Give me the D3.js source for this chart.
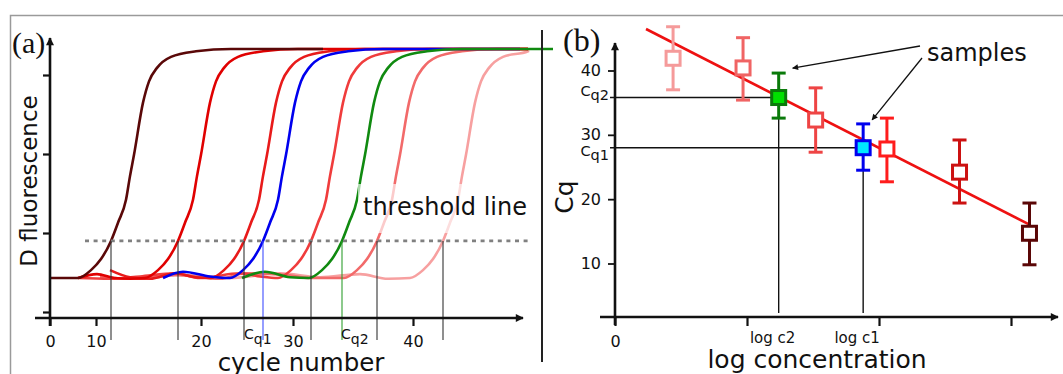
<!DOCTYPE html>
<html>
<head>
<meta charset="utf-8">
<script src="https://cdn.jsdelivr.net/npm/d3@7"></script>
<style>
  body { margin: 0; background: #fff; }
  text { font-family: "DejaVu Sans", Verdana, sans-serif; fill: #111; }
</style>
</head>
<body>
<script>
// ---------- data: panel (a) amplification curves ----------
const cycleTickPos = [0, 4.6, 15.1, 24.3, 36.3];
const cycleTickLabels = ["0", "10", "20", "30", "40"];
const fluorTicks = [0, 1, 2, 3];
const threshold = 0.9;

// threshold crossing cycle of each curve
const curveCq = [6.1, 12.8, 19.4, 21.3, 26.1, 29.2, 32.7, 39.3];
const curveColors = ["#5a0808", "#e00000", "#e81a1a", "#0000ee", "#f03c3c", "#108a10", "#f26a6a", "#f7a0a0"];
const curveEnd = [27.3, 47.8, 47.8, 47.0, 47.8, 50.3, 47.8, 47.8];
const drawOrder = [7, 6, 4, 2, 1, 0, 3, 5];
// noisy baseline before the rise, [cycle, fluorescence]
const curveBase = [
  [[0, 0.43], [2.0, 0.43]],
  [[2.8, 0.43], [4.7, 0.48], [6.4, 0.43], [8.0, 0.42]],
  [[6.0, 0.53], [8.0, 0.44], [10.0, 0.42], [12.5, 0.49], [14.5, 0.44]],
  [[11.3, 0.43], [13.3, 0.51], [16.0, 0.45]],
  [[2.8, 0.43], [6.0, 0.42], [9.0, 0.45], [12.5, 0.49], [15.0, 0.43], [19.0, 0.49], [21.0, 0.45]],
  [[19.2, 0.43], [21.5, 0.51], [24.0, 0.44]],
  [[5.0, 0.45], [8.0, 0.42], [12.5, 0.47], [17.0, 0.42], [19.5, 0.49], [23.5, 0.47], [26.0, 0.43], [27.8, 0.43]],
  [[5.0, 0.44], [9.0, 0.42], [13.0, 0.47], [18.0, 0.43], [23.0, 0.49], [27.0, 0.44], [31.0, 0.48], [33.8, 0.42]]
];
// rise shape: [cycles from Cq, fluorescence]
const riseProfile = [
  [-3.3, 0.43], [-2.0, 0.53], [-1.0, 0.67], [0, 0.90], [0.7, 1.13], [1.5, 1.42],
  [1.9, 1.72], [2.3, 1.99], [3.2, 2.65], [3.8, 2.92], [4.6, 3.09], [6.0, 3.23],
  [8.5, 3.30], [12, 3.33]
];

// ---------- data: panel (b) standard curve ----------
const logTicks = [0, 1, 2, 3];
const logTickLabels = ["0", "", "", ""];
const cqTicks = [10, 20, 30, 40];
const stdLogC = [0.44, 0.97, 1.52, 2.06, 2.61, 3.14];
const stdCq = [41.9, 40.4, 32.3, 27.8, 24.2, 14.7];
const stdLo = [37.0, 35.4, 27.3, 22.7, 19.4, 9.8];
const stdHi = [46.8, 45.1, 37.3, 32.6, 29.2, 19.4];
const stdColors = ["#f59a9a", "#f06464", "#ee4444", "#ff1c1c", "#cc1111", "#5a0606"];
const sampleNames = ["2", "1"];
const sampleLogC = [1.24, 1.88];
const sampleCq = [35.8, 28.0];
const sampleLo = [32.6, 24.5];
const sampleHi = [39.6, 31.7];
const sampleFill = ["#00e000", "#00e8ff"];
const sampleStroke = ["#0a7a0a", "#0000ee"];
const fitLogC = [0.235, 3.144];
const fitCq = [46.45, 16.0];

const W = 1063, H = 374;
const svg = d3.select("body").append("svg")
  .attr("width", W).attr("height", H);

const defs = svg.append("defs");
defs.append("marker").attr("id", "axArrow")
  .attr("viewBox", "0 0 10 10").attr("refX", 9).attr("refY", 5)
  .attr("markerWidth", 10).attr("markerHeight", 8)
  .attr("markerUnits", "userSpaceOnUse").attr("orient", "auto")
  .append("path").attr("d", "M0,0 L10,5 L0,10 z").attr("fill", "#111");
defs.append("marker").attr("id", "smArrow")
  .attr("viewBox", "0 0 10 10").attr("refX", 9).attr("refY", 5)
  .attr("markerWidth", 9).attr("markerHeight", 6)
  .attr("markerUnits", "userSpaceOnUse").attr("orient", "auto")
  .append("path").attr("d", "M0,0 L10,5 L0,10 z").attr("fill", "#111");

// frame
svg.append("path")
  .attr("d", `M10.5,${H} V15.5 H${W}`)
  .attr("fill", "none").attr("stroke", "#9a9a9a").attr("stroke-width", 1.5);

// ================= panel (a) =================
const xa = d3.scaleLinear().domain([0, 48]).range([50, 530]);
const ya = d3.scaleLinear().domain([0, 3]).range([312, 75]);
const axYa = 318;

const line = d3.line()
  .x(d => xa(d[0])).y(d => ya(d[1]))
  .curve(d3.curveMonotoneX);

drawOrder.forEach(i => {
  const cq = curveCq[i];
  let pts = curveBase[i].concat(riseProfile.map(p => [cq + p[0], p[1]]))
    .filter(p => p[0] <= curveEnd[i]);
  pts.push([curveEnd[i], riseProfile[riseProfile.length - 1][1]]);
  svg.append("path")
    .attr("d", line(pts))
    .attr("fill", "none")
    .attr("stroke", curveColors[i])
    .attr("stroke-width", 2.6);
});

// threshold line
svg.append("line")
  .attr("x1", xa(3.5)).attr("x2", xa(48))
  .attr("y1", ya(threshold)).attr("y2", ya(threshold))
  .attr("stroke", "#808080").attr("stroke-width", 2.6)
  .attr("stroke-dasharray", "4,4.6");

// Cq drop lines
curveCq.forEach((cq, i) => {
  let c = "#333";
  if (i === 3) c = "#3f4dff";
  if (i === 5) c = "#2f9f2f";
  svg.append("line")
    .attr("x1", xa(cq)).attr("x2", xa(cq))
    .attr("y1", ya(threshold)).attr("y2", 340)
    .attr("stroke", c).attr("stroke-width", 1.1);
});

// label box for threshold text
svg.append("rect")
  .attr("x", 358).attr("y", 184).attr("width", 178).attr("height", 49)
  .attr("fill", "#fff").attr("opacity", 0.65);
svg.append("text")
  .attr("x", 363).attr("y", 215)
  .style("font-size", "24px")
  .text("threshold line");

// axes (a)
const xAxisA = svg.append("g")
  .attr("transform", `translate(0,${axYa})`)
  .call(d3.axisBottom(xa).tickValues(cycleTickPos).tickSize(8).tickPadding(10)
    .tickFormat((d, i) => cycleTickLabels[i]));
xAxisA.select(".domain").remove();
xAxisA.selectAll("line").attr("stroke", "#111").attr("stroke-width", 2.2);
xAxisA.selectAll("text").style("font-size", "16px").attr("fill", "#111");

const yAxisA = svg.append("g")
  .attr("transform", `translate(${xa(0)},0)`)
  .call(d3.axisLeft(ya).tickValues(fluorTicks).tickSize(7).tickFormat(""));
yAxisA.select(".domain").remove();
yAxisA.selectAll("line").attr("stroke", "#111").attr("stroke-width", 2.2);

svg.append("line")
  .attr("x1", 35).attr("x2", 523).attr("y1", axYa).attr("y2", axYa)
  .attr("stroke", "#111").attr("stroke-width", 2.6)
  .attr("marker-end", "url(#axArrow)");
svg.append("line")
  .attr("x1", xa(0)).attr("x2", xa(0)).attr("y1", 326).attr("y2", 38)
  .attr("stroke", "#111").attr("stroke-width", 2.6)
  .attr("marker-end", "url(#axArrow)");

// Cq labels under the axis
const cqLab = [
  { i: 3, name: "1", x: xa(curveCq[3]) - 19 },
  { i: 5, name: "2", x: xa(curveCq[5]) - 1 }
];
cqLab.forEach(l => {
  const t = svg.append("text").attr("x", l.x).attr("y", 339).style("font-size", "14px");
  t.append("tspan").text("C");
  t.append("tspan").attr("dy", 5).text("q" + l.name);
});

svg.append("text")
  .attr("x", 301).attr("y", 371)
  .attr("text-anchor", "middle")
  .style("font-size", "24.5px")
  .text("cycle number");
svg.append("text")
  .attr("transform", "translate(37,181) rotate(-90)")
  .attr("text-anchor", "middle")
  .style("font-size", "23px")
  .text("D fluorescence");
svg.append("text")
  .attr("x", 12).attr("y", 53)
  .style("font-family", "'Liberation Serif', 'Times New Roman', serif")
  .style("font-size", "30px")
  .text("(a)");

// separator
svg.append("line")
  .attr("x1", 542).attr("x2", 542).attr("y1", 30).attr("y2", 362)
  .attr("stroke", "#222").attr("stroke-width", 2);

// ================= panel (b) =================
const xb = d3.scaleLinear().domain([0, 3]).range([615, 1011]);
const yb = d3.scaleLinear().domain([10, 40]).range([263.5, 70.5]);
const axYb = 317;

// Cq / log c guide lines for the samples
sampleLogC.forEach((lc, i) => {
  svg.append("line")
    .attr("x1", xb(0) - 5).attr("x2", xb(lc))
    .attr("y1", yb(sampleCq[i])).attr("y2", yb(sampleCq[i]))
    .attr("stroke", "#111").attr("stroke-width", 1.4);
  svg.append("line")
    .attr("x1", xb(lc)).attr("x2", xb(lc))
    .attr("y1", yb(sampleCq[i])).attr("y2", axYb - 4)
    .attr("stroke", "#111").attr("stroke-width", 1.4);
});

// fit line
svg.append("line")
  .attr("x1", xb(fitLogC[0])).attr("y1", yb(fitCq[0]))
  .attr("x2", xb(fitLogC[1])).attr("y2", yb(fitCq[1]))
  .attr("stroke", "#ee1111").attr("stroke-width", 2.6);

function errBox(x, cq, lo, hi, stroke, fill) {
  const g = svg.append("g").attr("stroke", stroke).attr("stroke-width", 3).attr("fill", "none");
  const cx = xb(x);
  g.append("line").attr("x1", cx).attr("x2", cx).attr("y1", yb(hi)).attr("y2", yb(lo));
  g.append("line").attr("x1", cx - 7).attr("x2", cx + 7).attr("y1", yb(hi)).attr("y2", yb(hi));
  g.append("line").attr("x1", cx - 7).attr("x2", cx + 7).attr("y1", yb(lo)).attr("y2", yb(lo));
  g.append("rect")
    .attr("x", cx - 7).attr("y", yb(cq) - 7)
    .attr("width", 14).attr("height", 14)
    .attr("fill", fill);
}
stdLogC.forEach((x, i) => errBox(x, stdCq[i], stdLo[i], stdHi[i], stdColors[i], "#fff"));
sampleLogC.forEach((x, i) => errBox(x, sampleCq[i], sampleLo[i], sampleHi[i], sampleStroke[i], sampleFill[i]));

// axes (b)
const xAxisB = svg.append("g")
  .attr("transform", `translate(0,${axYb})`)
  .call(d3.axisBottom(xb).tickValues(logTicks).tickSize(9).tickPadding(10)
    .tickFormat((d, i) => logTickLabels[i]));
xAxisB.select(".domain").remove();
xAxisB.selectAll("line").attr("stroke", "#111").attr("stroke-width", 2.2);
xAxisB.selectAll("text").style("font-size", "16px").attr("fill", "#111");

const yAxisB = svg.append("g")
  .attr("transform", `translate(${xb(0)},0)`)
  .call(d3.axisLeft(yb).tickValues(cqTicks).tickSize(7).tickPadding(7));
yAxisB.select(".domain").remove();
yAxisB.selectAll("line").attr("stroke", "#111").attr("stroke-width", 1.8);
yAxisB.selectAll("text").style("font-size", "16px").attr("fill", "#111");

svg.append("line")
  .attr("x1", 600).attr("x2", 1058).attr("y1", axYb).attr("y2", axYb)
  .attr("stroke", "#111").attr("stroke-width", 2.6)
  .attr("marker-end", "url(#axArrow)");
svg.append("line")
  .attr("x1", xb(0)).attr("x2", xb(0)).attr("y1", 325).attr("y2", 43)
  .attr("stroke", "#111").attr("stroke-width", 2.6)
  .attr("marker-end", "url(#axArrow)");

// sample labels
sampleLogC.forEach((lc, i) => {
  svg.append("text")
    .attr("x", xb(lc) - 6).attr("y", 343)
    .attr("text-anchor", "middle")
    .style("font-size", "15px")
    .text("log c" + sampleNames[i]);
  const yOff = i === 0 ? -2 : 8;
  const t = svg.append("text")
    .attr("x", 609).attr("y", yb(sampleCq[i]) + yOff)
    .attr("text-anchor", "end")
    .style("font-size", "14.5px");
  t.append("tspan").text("C");
  t.append("tspan").attr("dy", 4).text("q" + sampleNames[i]);
});

// "samples" annotation
svg.append("text")
  .attr("x", 927).attr("y", 61)
  .style("font-size", "24px")
  .text("samples");
svg.append("line")
  .attr("x1", 920).attr("y1", 46)
  .attr("x2", xb(sampleLogC[0]) + 14).attr("y2", yb(sampleHi[0]) - 5)
  .attr("stroke", "#111").attr("stroke-width", 1.3)
  .attr("marker-end", "url(#smArrow)");
svg.append("line")
  .attr("x1", 922).attr("y1", 58)
  .attr("x2", xb(sampleLogC[1]) + 9).attr("y2", yb(sampleHi[1]) - 4)
  .attr("stroke", "#111").attr("stroke-width", 1.3)
  .attr("marker-end", "url(#smArrow)");

svg.append("text")
  .attr("x", 817).attr("y", 368)
  .attr("text-anchor", "middle")
  .style("font-size", "25px")
  .text("log concentration");
svg.append("text")
  .attr("transform", "translate(573,197) rotate(-90)")
  .attr("text-anchor", "middle")
  .style("font-size", "25px")
  .text("Cq");
svg.append("text")
  .attr("x", 563).attr("y", 51)
  .style("font-family", "'Liberation Serif', 'Times New Roman', serif")
  .style("font-size", "32px")
  .text("(b)");
</script>
</body>
</html>
